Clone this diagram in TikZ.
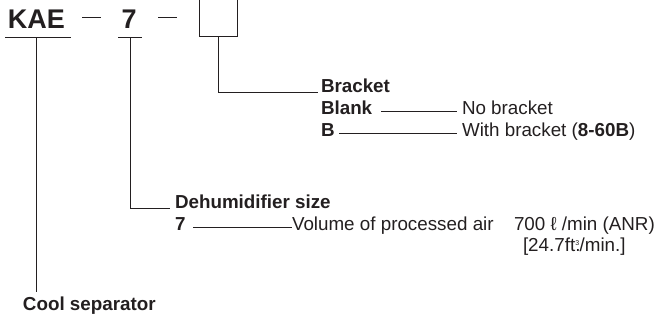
\documentclass[tikz,border=0pt]{standalone}
\usepackage{fontspec}
\setmainfont{Liberation Sans}
\definecolor{ink}{HTML}{231F20}
\begin{document}
\begin{tikzpicture}[x=1pt,y=1pt,
  lbl/.style={inner sep=0pt, outer sep=0pt, anchor=base west, text=ink, font=\fontsize{18.8}{22}\selectfont},
  blbl/.style={lbl, font=\fontsize{18.8}{22}\selectfont\bfseries},
  big/.style={lbl, font=\fontsize{27}{32}\selectfont\bfseries},
  ln/.style={draw=ink, line width=0.9pt}]
\useasboundingbox (0,0) rectangle (659,-320);
\clip (0,0) rectangle (659,-320);
% top code
\node[big] (kae) at (8,-29) {KAE};
\node[big] (seven) at (121.5,-29) {7};
\node[draw=ink, line width=0.9pt, minimum width=38pt, minimum height=50pt, anchor=south west, inner sep=0pt] (box) at (199,-36.5) {};
\coordinate (kaeL) at (5,-37.3);
\coordinate (kaeR) at (71,-37.3);
\coordinate (kaeM) at (36,-37.3);
\coordinate (svL) at (118,-37.3);
\coordinate (svR) at (142,-37.3);
\coordinate (svM) at (130,-37.3);
\coordinate (d1L) at (82,-17.5);
\coordinate (d1R) at (101,-17.5);
\coordinate (d2L) at (158,-17.5);
\coordinate (d2R) at (177,-17.5);
\draw[ln] (kaeL) -- (kaeR);
\draw[ln] (svL) -- (svR);
\draw[ln] (d1L) -- (d1R);
\draw[ln] (d2L) -- (d2R);
% bracket block
\node[blbl] (brk) at (321,-92.8) {Bracket};
\node[blbl] (blank) at (321,-114.5) {Blank};
\node[blbl] (bb) at (321,-136.2) {B};
\node[lbl] (nob) at (462,-114.5) {No bracket};
\node[lbl] (wb) at (462,-136.2) {With bracket (\textbf{8-60B})};
\draw[ln] (box.south) |- ([xshift=-3pt,yshift=0.5pt]brk.base west);
\draw[ln] ([xshift=9pt,yshift=2.6pt]blank.base east) -- ([xshift=-5pt,yshift=2.6pt]nob.base west);
\draw[ln] ([xshift=4.5pt,yshift=2.6pt]bb.base east) -- ([xshift=-5pt,yshift=2.6pt]wb.base west);
% dehumidifier block
\node[blbl] (dh) at (175,-209) {Dehumidifier size};
\node[blbl] (d7) at (175,-230.5) {7};
\node[lbl] (vol) at (292,-230.5) {Volume of processed air};
\node[lbl] (flow) at (514,-230.5) {700 ℓ /min (ANR)};
\node[lbl] (cfm) at (523,-252) {[24.7ft\rlap{.}\textsuperscript{\scriptsize 3}/min.]};
\draw[ln] (svM) |- ([xshift=-5pt,yshift=0.3pt]dh.base west);
\draw[ln] ([xshift=8pt,yshift=2.7pt]d7.base east) -- ([xshift=-0.5pt,yshift=2.7pt]vol.base west);
% cool separator
\node[blbl] (cool) at (23,-311) {Cool separator};
\draw[ln] (kaeM) -- ([yshift=5pt]kaeM |- cool.north);
\end{tikzpicture}
\end{document}
